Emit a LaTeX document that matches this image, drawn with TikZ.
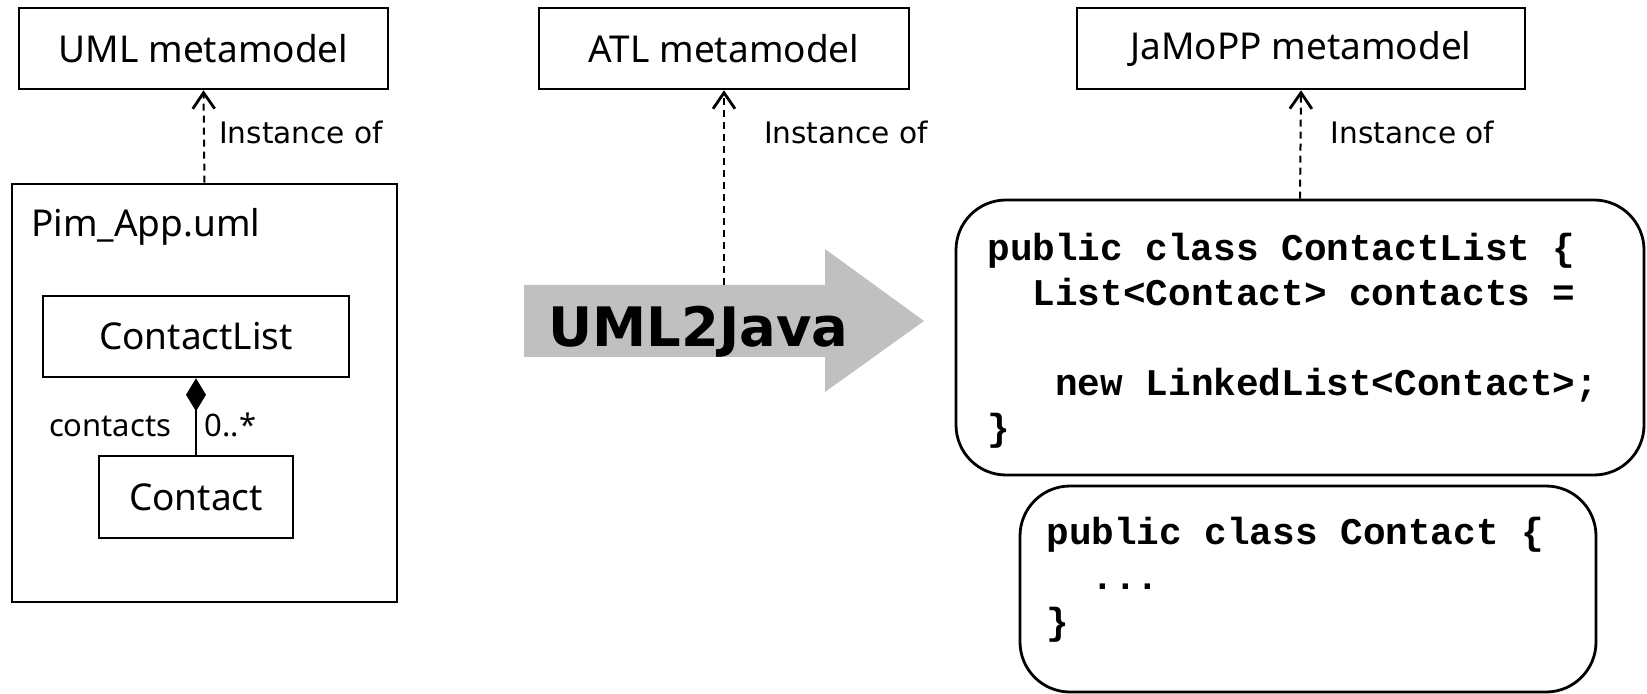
\documentclass[tikz,border=0pt]{standalone}
\usepackage{fontspec}
\setmainfont{Noto Sans}
\newfontfamily\verdana{DejaVu Sans}
\newfontfamily\courier{Liberation Mono}
\usepackage{tikz}
\usetikzlibrary{arrows.meta,positioning}
\definecolor{trafogray}{RGB}{192,192,192}
\newcommand{\boxfont}{\fontsize{18.5}{22}\selectfont}
\newcommand{\codefont}{\courier\bfseries\fontsize{18.85}{22.5}\selectfont}

\begin{document}
\begin{tikzpicture}[x=0.5pt, y=-0.5pt,
		plainbox/.style={draw, line width=1.3pt, inner sep=0pt, minimum height=40.5pt, font=\boxfont},
		codebox/.style={draw, line width=1.4pt, inner sep=0pt, rounded corners=25pt},
		code/.style={anchor=north west, inner sep=0pt, align=left, font=\codefont},
		instof/.style={line width=1pt, dash pattern=on 3.5pt off 2.5pt,
			-{Straight Barb[length=8pt, width=11pt, line width=1.4pt]}},
		lbl/.style={anchor=base west, font=\verdana\fontsize{14.8}{17}\selectfont}]
	\useasboundingbox (0,0) rectangle (1647,694);
	% metamodels
	\node[plainbox, minimum width=184.5pt] (umlmm) at (203.5,48.5) {UML metamodel};
	\node[plainbox, minimum width=185pt] (atlmm) at (724,48.5) {ATL metamodel};
	\node[plainbox, minimum width=224pt] (jamoppmm) at (1301,48.5) {JaMoPP metamodel};
	% uml model
	\node[draw, line width=1.3pt, minimum width=192.5pt, minimum height=209pt] (pim) at (204.5,393) {};
	\node[anchor=base west, inner sep=0pt, font=\boxfont] (pimname) at (31,237) {Pim\_App.uml};
	\node[plainbox, minimum width=153pt] (clist) at (196,336.5) {ContactList};
	\node[plainbox, minimum width=97pt, minimum height=41pt] (contact) at (196,497) {Contact};
	\draw[line width=0.7pt, {Diamond[length=16.5pt, width=10pt]}-] (clist.south) -- (contact.north)
		node[pos=0.76, anchor=base east, inner xsep=12pt, font=\fontsize{15.5}{18}\selectfont] {contacts}
		node[pos=0.76, anchor=base west, inner xsep=4pt, font=\fontsize{15.5}{18}\selectfont] {0..*};
	% transformation
	\fill[trafogray] (524,285) -- (825,285) -- (825,249) -- (924,321) -- (825,392) -- (825,357) -- (524,357) -- cycle;
	\coordinate (trafotop) at (724,285);
	\node[anchor=base west, inner sep=0pt, font=\verdana\bfseries\fontsize{27.2}{30}\selectfont] (trafo) at (548,347) {UML2Java};
	% java code
	\node[codebox, minimum width=344pt, minimum height=137.5pt] (clistcode) at (1300,337.5) {};
	\node[code] (clisttext) at (987,233) {public class ContactList \{\\
		~~List<Contact> contacts =\\
		~\\
		~~~new LinkedList<Contact>;\\
		\}};
	\node[code] (contacttext) at (1046,517) {public class Contact \{\\
		~~...\\
		\}};
	\node[codebox, minimum width=288pt, minimum height=103pt] (contactcode) at (1308,589) {};
	% instance of
	\draw[instof] (pim.north) -- (umlmm.south) node[lbl, pos=0.42, inner xsep=7pt] {Instance of};
	\draw[instof] (trafotop) -- (atlmm.south) node[lbl, pos=0.727, inner xsep=19.5pt] {Instance of};
	\draw[instof] (clistcode.north) -- (jamoppmm.south) node[lbl, pos=0.51, inner xsep=14.5pt] {Instance of};
\end{tikzpicture}
\end{document}
